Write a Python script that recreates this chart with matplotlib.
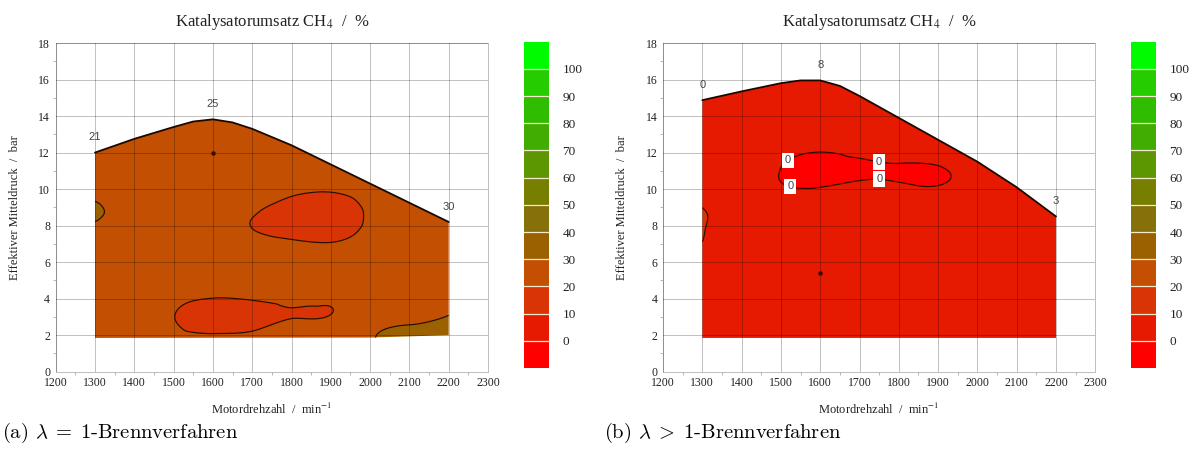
import numpy as np
import matplotlib
matplotlib.use("Agg")
import matplotlib.pyplot as plt
import matplotlib.tri as mtri
from matplotlib.colors import ListedColormap, BoundaryNorm
from matplotlib.patches import PathPatch
from matplotlib.path import Path
from matplotlib.ticker import MultipleLocator

# ---------------------------------------------------------------- data
speed_grid = [1300, 1400, 1500, 1600, 1700, 1800, 1900, 2000, 2100, 2200]

# (a) lambda = 1 combustion: CH4 conversion in %, rows top (high load) -> bottom
pressure_a = [14, 13, 12, 11, 10, 9, 8, 7, 6, 5, 4, 3, 2, 1]
conversion_a = [
    [21.0, 23.0, 24.5, 25.0, 25.0, 25.0, 25.5, 26.0, 27.0, 28.0],
    [21.0, 22.5, 24.0, 25.0, 25.0, 25.0, 25.5, 26.0, 27.0, 28.0],
    [21.0, 22.5, 24.0, 25.0, 24.5, 24.0, 24.5, 25.5, 27.0, 28.5],
    [23.0, 23.5, 24.0, 24.5, 24.0, 23.0, 23.0, 24.5, 26.5, 29.0],
    [26.0, 25.0, 24.5, 24.0, 23.5, 21.8, 20.8, 23.0, 26.5, 29.5],
    [31.5, 26.0, 24.0, 23.0, 21.5, 16.5, 15.5, 21.5, 26.5, 30.2],
    [29.0, 25.5, 24.0, 23.0, 19.8, 15.5, 15.0, 21.5, 26.5, 29.6],
    [26.0, 25.0, 24.0, 23.5, 22.5, 21.5, 20.5, 23.0, 26.0, 28.5],
    [25.0, 25.0, 24.5, 24.0, 23.5, 23.5, 23.5, 24.0, 26.0, 28.0],
    [25.0, 25.0, 24.5, 23.0, 22.5, 23.0, 23.5, 24.5, 26.0, 27.5],
    [25.0, 25.0, 22.0, 19.8, 20.6, 21.5, 21.5, 24.0, 26.0, 28.0],
    [25.0, 24.0, 20.2, 14.0, 16.0, 19.8, 20.4, 27.0, 28.5, 30.3],
    [25.0, 24.5, 22.0, 20.8, 21.5, 24.0, 26.0, 29.5, 31.5, 33.0],
    [25.0, 24.5, 22.5, 21.5, 22.0, 24.0, 26.0, 29.5, 31.5, 33.0],
]
full_load_speed_a = [1300, 1400, 1500, 1550, 1600, 1650, 1700, 1800, 1900, 2000, 2100, 2200]
full_load_bar_a = [12.0, 12.75, 13.4, 13.7, 13.82, 13.65, 13.3, 12.4, 11.35, 10.3, 9.25, 8.2]
min_load_speed_a = [1300, 2000, 2200]
min_load_bar_a = [1.85, 1.87, 2.0]
point_speed_a = [1300, 1600, 2200]
point_bar_a = [12.0, 13.82, 8.2]
point_value_a = [21, 25, 30]
probe_a = (1600, 12.0)

# (b) lambda > 1 combustion
pressure_b = [16, 15, 14, 13, 12, 11, 10, 9, 8, 7, 6, 5, 4, 3, 2, 1]
conversion_b = [
    [1.0, 5.0, 7.0, 8.0, 7.5, 7.0, 6.0, 5.0, 4.0, 3.0],
    [0.4, 4.0, 6.0, 7.5, 7.0, 6.5, 6.0, 5.0, 4.0, 3.0],
    [2.0, 4.0, 5.5, 6.5, 6.5, 6.0, 5.5, 5.0, 4.0, 3.0],
    [3.0, 4.0, 4.5, 5.0, 5.0, 5.0, 5.0, 4.5, 4.0, 3.0],
    [3.5, 3.5, 1.5, -0.1, 1.0, 1.8, 1.8, 3.0, 3.5, 3.0],
    [4.0, 3.5, -0.1, -1.0, -0.8, -0.5, -0.4, 1.8, 3.0, 3.0],
    [5.0, 4.0, 0.8, 0.3, 1.5, 1.0, 0.6, 2.5, 3.0, 3.0],
    [9.9, 5.5, 4.5, 4.0, 4.0, 4.0, 4.0, 3.5, 3.0, 3.0],
    [10.6, 5.5, 5.0, 4.5, 4.5, 4.5, 4.5, 4.0, 3.5, 3.0],
    [9.8, 5.5, 5.0, 5.0, 5.0, 5.0, 5.0, 4.5, 4.0, 3.5],
    [6.0, 5.0, 5.0, 5.0, 5.0, 5.0, 5.0, 5.0, 4.5, 4.0],
    [5.5, 5.0, 5.0, 5.0, 5.0, 5.0, 5.0, 5.0, 4.5, 4.0],
    [5.5, 5.0, 5.0, 5.0, 5.0, 5.0, 5.0, 5.0, 4.5, 4.0],
    [5.5, 5.0, 5.0, 5.0, 5.0, 5.0, 5.0, 5.0, 4.5, 4.0],
    [5.5, 5.0, 5.0, 5.0, 5.0, 5.0, 5.0, 5.0, 4.5, 4.0],
    [5.5, 5.0, 5.0, 5.0, 5.0, 5.0, 5.0, 5.0, 4.5, 4.0],
]
full_load_speed_b = [1300, 1400, 1500, 1550, 1600, 1650, 1700, 1800, 1900, 2000, 2100, 2200]
full_load_bar_b = [14.87, 15.35, 15.8, 15.95, 15.95, 15.65, 15.1, 13.9, 12.7, 11.5, 10.1, 8.5]
min_load_speed_b = [1300, 2200]
min_load_bar_b = [1.85, 1.85]
point_speed_b = [1300, 1600, 2200]
point_bar_b = [14.87, 15.95, 8.5]
point_value_b = [0, 8, 3]
probe_b = (1600, 5.4)
zero_label_pos_b = [(1523, 11.39), (1523, 10.1), (1750, 11.53), (1750, 10.44)]

# colour classes: below 0, 0-10, ..., 90-100, above 100
levels = [-1000, 0, 10, 20, 30, 40, 50, 60, 70, 80, 90, 100, 1000]
band_colors = ['#ff0000', '#e61a00', '#d83405', '#c24f02', '#9b6000', '#86700a',
               '#777f00', '#5c9600', '#40ad00', '#30bd00', '#24cc00', '#00fa00']
cbar_ticks = [0, 10, 20, 30, 40, 50, 60, 70, 80, 90, 100]

title_text = r"Katalysatorumsatz CH$_4$  /  %"
xlabel_text = r"Motordrehzahl  /  min$^{-1}$"
ylabel_text = "Effektiver Mitteldruck  /  bar"
captions = [r"(a) $\lambda\;=\;1$-Brennverfahren", r"(b) $\lambda\;>\;1$-Brennverfahren"]

# ---------------------------------------------------------------- style
SERIF = "Liberation Serif"
SANS = "Liberation Sans"
cmap = ListedColormap(band_colors)
norm = BoundaryNorm(levels, cmap.N)
GRID = "#000000"
GRID_ALPHA = 0.25

W, H = 1201, 454
fig = plt.figure(figsize=(W / 100, H / 100), dpi=100)


def fig_rect(x0, y0, x1, y1):
    """pixel box (top-left origin) -> figure fraction rect"""
    return [x0 / W, 1 - y1 / H, (x1 - x0) / W, (y1 - y0) / H]


def smooth_field(pressures, values):
    s = np.array(speed_grid, float)
    p = np.array(pressures, float)
    order = np.argsort(p)
    p = p[order]
    z = np.array(values, float)[order]
    S, P = np.meshgrid(s, p)
    ns, npr = len(s), len(p)
    tris = []
    for j in range(npr - 1):
        for i in range(ns - 1):
            a = j * ns + i
            b, c, d = a + 1, a + ns, a + ns + 1
            tris += [[a, b, d], [a, d, c]]
    # work in scaled units (100 rpm ~ 1 bar) for the cubic interpolation
    tri = mtri.Triangulation((S.ravel() - 1300) / 100.0, P.ravel(), np.array(tris))
    interp = mtri.CubicTriInterpolator(tri, z.ravel(), kind="min_E")
    tri_f, z_f = mtri.UniformTriRefiner(tri).refine_field(z.ravel(), triinterpolator=interp, subdiv=4)
    tri_plot = mtri.Triangulation(tri_f.x * 100 + 1300, tri_f.y, tri_f.triangles)
    return tri_plot, z_f


def draw_panel(ax, cax, pressures, values, fl_s, fl_p, ml_s, ml_p,
               pt_s, pt_p, pt_v, probe, zero_labels=None):
    tri_plot, z_f = smooth_field(pressures, values)

    verts = list(zip(ml_s, ml_p)) + list(zip(fl_s[::-1], fl_p[::-1]))
    verts.append(verts[0])
    codes = [Path.MOVETO] + [Path.LINETO] * (len(verts) - 2) + [Path.CLOSEPOLY]
    clip = PathPatch(Path(verts, codes), transform=ax.transData,
                     facecolor="none", edgecolor="none")

    cf = ax.tricontourf(tri_plot, z_f, levels=levels, cmap=cmap, norm=norm, zorder=1)
    cf.set_clip_path(clip)
    cl = ax.tricontour(tri_plot, z_f, levels=levels[1:-1], colors="#2a0c00",
                       linewidths=0.85, zorder=2.6)
    cl.set_clip_path(clip)
    if zero_labels:
        lbl = ax.clabel(cl, levels=[0], manual=zero_labels, inline=True,
                        fmt="%d", fontsize=8, inline_spacing=3)
        for t in lbl:
            t.set_rotation(0)
            t.set_fontfamily(SANS)
            t.set_color("#444444")
            t.set_bbox(dict(boxstyle="square,pad=0.25", facecolor="white", edgecolor="none"))

    ax.plot(fl_s, fl_p, color="#1a0800", lw=1.3, zorder=3, solid_capstyle="round")
    ax.plot([probe[0]], [probe[1]], "o", ms=2.2, color="#3a0a00", zorder=3)
    for s, p, v in zip(pt_s, pt_p, pt_v):
        ax.annotate(f"{v:d}", (s, p), xytext=(0, 11), textcoords="offset points",
                    ha="center", va="center", fontsize=8, family=SANS, color="#444444")

    ax.set_xlim(1200, 2300)
    ax.set_ylim(0, 18)
    ax.xaxis.set_major_locator(MultipleLocator(100))
    ax.xaxis.set_minor_locator(MultipleLocator(50))
    ax.yaxis.set_major_locator(MultipleLocator(2))
    ax.yaxis.set_minor_locator(MultipleLocator(1))
    ax.set_axisbelow(False)
    ax.grid(True, which="major", color=GRID, alpha=GRID_ALPHA, lw=0.7)
    for sp in ax.spines.values():
        sp.set_color("#bdbdbd")
        sp.set_linewidth(0.7)
    ax.tick_params(which="both", direction="out", color="#aaaaaa", labelsize=8.5,
                   labelcolor="#222222")
    ax.tick_params(which="major", length=0, pad=4)
    ax.tick_params(which="minor", length=2.5, width=0.6)
    for t in ax.get_xticklabels() + ax.get_yticklabels():
        t.set_fontfamily(SERIF)
    ax.set_xlabel(xlabel_text, family=SERIF, fontsize=9, math_fontfamily="stix", color="#222222")
    ax.set_ylabel(ylabel_text, family=SERIF, fontsize=9, color="#222222")
    ax.xaxis.set_label_coords(0.5, -0.092)
    ax.yaxis.set_label_coords(-0.08, 0.5)
    ax.text(0.5, 1.064, title_text, transform=ax.transAxes, ha="center", va="center",
            family=SERIF, fontsize=12, math_fontfamily="stix", color="#222222")

    # colour scale
    edges = [-10] + cbar_ticks + [110]
    mids = [(a + b) / 2 for a, b in zip(edges[:-1], edges[1:])]
    cax.pcolormesh([0, 1], edges, np.array(mids)[:, None], cmap=cmap, norm=norm)
    for v in cbar_ticks:
        cax.axhline(v, color="#f3e9cc", lw=0.9)
    cax.set_xlim(0, 1)
    cax.set_ylim(-10, 110)
    cax.set_xticks([])
    cax.yaxis.tick_right()
    cax.set_yticks(cbar_ticks)
    cax.tick_params(axis="y", length=0, pad=10, labelsize=9.5, labelcolor="#222222")
    for t in cax.get_yticklabels():
        t.set_fontfamily(SERIF)
    for sp in cax.spines.values():
        sp.set_visible(False)


ax_a = fig.add_axes(fig_rect(55.7, 43.0, 488.0, 371.7))
cax_a = fig.add_axes(fig_rect(524.0, 41.7, 548.5, 368.0))
ax_b = fig.add_axes(fig_rect(663.0, 43.0, 1095.3, 371.7))
cax_b = fig.add_axes(fig_rect(1131.0, 41.7, 1155.5, 368.0))

draw_panel(ax_a, cax_a, pressure_a, conversion_a, full_load_speed_a, full_load_bar_a,
           min_load_speed_a, min_load_bar_a, point_speed_a, point_bar_a, point_value_a, probe_a)
draw_panel(ax_b, cax_b, pressure_b, conversion_b, full_load_speed_b, full_load_bar_b,
           min_load_speed_b, min_load_bar_b, point_speed_b, point_bar_b, point_value_b, probe_b,
           zero_labels=zero_label_pos_b)

for x0, cap in zip([2, 604], captions):
    fig.text(x0 / W, 1 - 433 / H, cap, ha="left", va="center", fontsize=14.8,
             family="cmr10", math_fontfamily="cm", color="black")

fig.savefig("out.png", dpi=100)
